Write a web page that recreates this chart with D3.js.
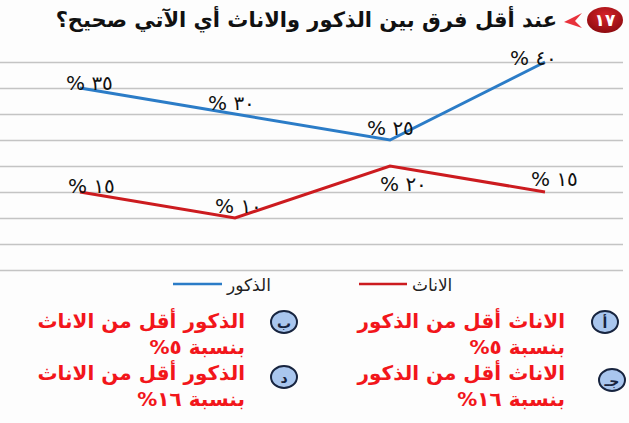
<!DOCTYPE html>
<html lang="ar">
<head>
<meta charset="UTF-8">
<title>الذكور والاناث</title>
<script src="https://cdn.jsdelivr.net/npm/d3@7"></script>
<style>
  body { margin: 0; background: #fdfdfd; }
  svg { display: block; font-family: "DejaVu Sans", sans-serif; }
</style>
</head>
<body>
<div id="chart"></div>
<script>
// البيانات
var categories = ["١", "٢", "٣", "٤"];
var maleValues = [35, 30, 25, 40];
var femaleValues = [15, 10, 20, 15];
var maleLabels = ["٣٥", "٣٠", "٢٥", "٤٠"];
var femaleLabels = ["١٥", "١٠", "٢٠", "١٥"];
var gridTicks = [0, 5, 10, 15, 20, 25, 30, 35, 40];
var seriesNames = ["الذكور", "الاناث"];

var title = "عند أقل فرق بين الذكور والاناث أي الآتي صحيح؟";
var optionLetters = ["أ", "ب", "جـ", "د"];
var optionLines = [
  ["الاناث أقل من الذكور", "بنسبة ٥%"],
  ["الذكور أقل من الاناث", "بنسبة ٥%"],
  ["الاناث أقل من الذكور", "بنسبة ١٦%"],
  ["الذكور أقل من الاناث", "بنسبة ١٦%"]
];

// مكان كل تسمية بالنسبة للنقطة
var maleNudge = [[-14, 2], [-27, -4], [-23, -5], [-35, 3]];
var femaleNudge = [[-12, 1], [-20, -5], [-10, 25], [-14, -6]];

var W = 629, H = 423;
var svg = d3.select("#chart").append("svg")
  .attr("width", W).attr("height", H);

var x = d3.scalePoint().domain(categories).range([80, 545]);
var y = d3.scaleLinear().domain([0, 40]).range([270, 62]);

// خطوط الشبكة
var yAxis = d3.axisLeft(y).tickValues(gridTicks).tickSize(0).tickFormat("");
var g = svg.append("g").call(yAxis);
g.select(".domain").remove();
g.selectAll(".tick line")
  .attr("x1", 0).attr("x2", 623)
  .attr("stroke", "#c4c4c4").attr("stroke-width", 1.5);

// الخطوط
var line = d3.line()
  .x(function(d, i) { return x(categories[i]); })
  .y(function(d) { return y(d); });

var series = [
  {name: seriesNames[0], values: maleValues, labels: maleLabels, nudge: maleNudge, color: "#2b7cc7"},
  {name: seriesNames[1], values: femaleValues, labels: femaleLabels, nudge: femaleNudge, color: "#cc1b1f"}
];

series.forEach(function(s) {
  svg.append("path")
    .attr("d", line(s.values))
    .attr("fill", "none")
    .attr("stroke", s.color)
    .attr("stroke-width", 3);
  svg.append("g").selectAll("text")
    .data(s.values)
    .enter().append("text")
    .attr("x", function(d, i) { return x(categories[i]) + s.nudge[i][0]; })
    .attr("y", function(d, i) { return y(d) + s.nudge[i][1]; })
    .attr("font-size", 20)
    .attr("fill", "#111")
    .text(function(d, i) { return "% " + s.labels[i]; });
});

// وسيلة الإيضاح
var legend = [
  {x1: 173, x2: 222, tx: 227, color: series[0].color, text: seriesNames[0]},
  {x1: 359, x2: 407, tx: 412, color: series[1].color, text: seriesNames[1]}
];
legend.forEach(function(l) {
  svg.append("line").attr("x1", l.x1).attr("x2", l.x2)
    .attr("y1", 284).attr("y2", 284)
    .attr("stroke", l.color).attr("stroke-width", 2.5);
  svg.append("text").attr("x", l.tx).attr("y", 291)
    .attr("font-size", 17).attr("fill", "#222").text(l.text);
});

// العنوان
svg.append("text")
  .attr("x", 557).attr("y", 27)
  .attr("direction", "rtl")
  .attr("text-anchor", "start")
  .attr("font-size", 21)
  .attr("font-weight", "bold")
  .attr("fill", "#111")
  .text(title);

svg.append("path")
  .attr("d", "M582,13 L564,22 L582,28 L575,21 Z")
  .attr("fill", "#e8323c");

var grad = svg.append("defs").append("radialGradient").attr("id", "bd")
  .attr("cx", "50%").attr("cy", "35%").attr("r", "65%");
grad.append("stop").attr("offset", "0%").attr("stop-color", "#d8242a");
grad.append("stop").attr("offset", "100%").attr("stop-color", "#8e0c10");
svg.append("ellipse").attr("cx", 605).attr("cy", 20).attr("rx", 18).attr("ry", 13)
  .attr("fill", "url(#bd)");
svg.append("text").attr("x", 605).attr("y", 26)
  .attr("text-anchor", "middle").attr("font-size", 17).attr("font-weight", "bold")
  .attr("fill", "#fff").text("١٧");

// الاختيارات
var optPos = [
  {cx: 605, cy: 322, tx: 565, ty: 328},
  {cx: 284, cy: 322, tx: 245, ty: 328},
  {cx: 612, cy: 380, tx: 565, ty: 380},
  {cx: 284, cy: 377, tx: 245, ty: 380}
];
optionLetters.forEach(function(letter, i) {
  var p = optPos[i];
  svg.append("ellipse").attr("cx", p.cx).attr("cy", p.cy).attr("rx", 13).attr("ry", 11)
    .attr("fill", "#a9c6ee").attr("stroke", "#17243f").attr("stroke-width", 2);
  svg.append("text").attr("x", p.cx).attr("y", p.cy + 1)
    .attr("text-anchor", "middle").attr("dominant-baseline", "central")
    .attr("font-size", 14).attr("font-weight", "bold")
    .attr("fill", "#17243f").text(letter);
  optionLines[i].forEach(function(t, j) {
    svg.append("text")
      .attr("x", p.tx).attr("y", p.ty + j * 26)
      .attr("direction", "rtl")
      .attr("text-anchor", "start")
      .attr("font-size", 20)
      .attr("font-weight", "bold")
      .attr("fill", "#f2161b")
      .text(t);
  });
});
</script>
</body>
</html>
